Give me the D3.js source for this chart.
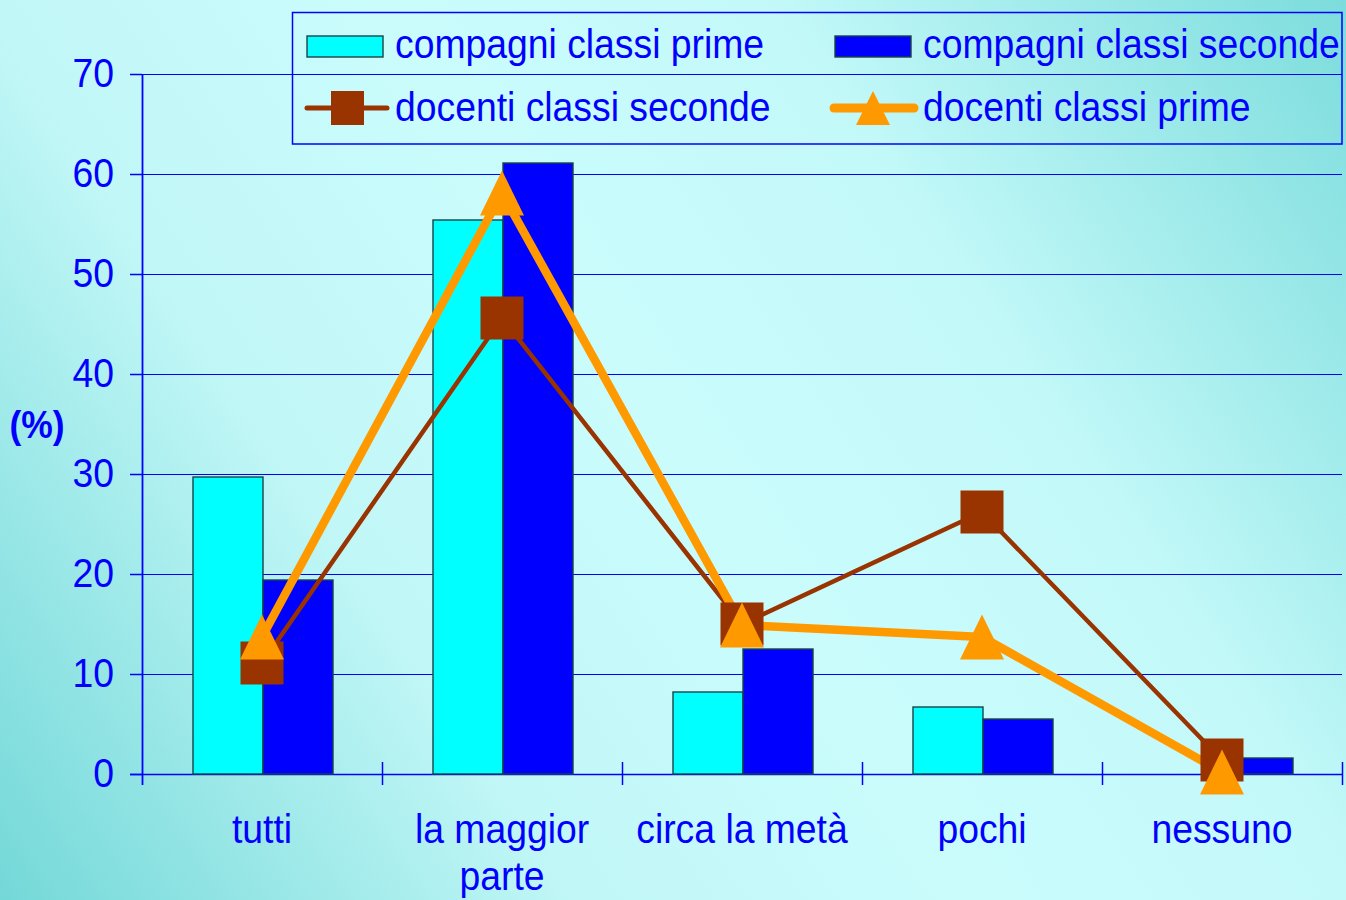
<!DOCTYPE html>
<html><head><meta charset="utf-8">
<script src="https://cdn.jsdelivr.net/npm/d3@7"></script>
<style>
html,body{margin:0;padding:0;overflow:hidden;}
svg{display:block;}
text{font-family:"Liberation Sans",Arial,sans-serif;fill:#0000ff;}
</style></head>
<body>
<svg id="chart" width="1346" height="900"></svg>
<script>
const categories = ["tutti", "la maggior parte", "circa la metà", "pochi", "nessuno"];
const categoryLines = [["tutti"], ["la maggior", "parte"], ["circa la metà"], ["pochi"], ["nessuno"]];
const compagniPrime = [29.7, 55.4, 8.2, 6.7, 0];
const compagniSeconde = [19.4, 61.1, 12.5, 5.5, 1.6];
const docentiSeconde = [11.1, 45.6, 15.0, 26.2, 1.4];
const docentiPrime = [13.7, 58.1, 14.9, 13.7, 0.2];
const yTicks = [0, 10, 20, 30, 40, 50, 60, 70];
const barSeries = ["compagni classi prime", "compagni classi seconde"];
const lineSeries = ["docenti classi seconde", "docenti classi prime"];

const svg = d3.select("#chart");
const W = 1346, H = 900;
const FS = 40, SX = 0.933;   // tall, slightly condensed text

// background gradient
const defs = svg.append("defs");
const g0 = defs.append("linearGradient").attr("id","bg")
  .attr("gradientUnits","userSpaceOnUse")
  .attr("x1",0).attr("y1",H).attr("x2",W).attr("y2",0);
[[0,"#74d8d8"],[0.3,"#c2f7f7"],[0.5,"#cafcfc"],[0.7,"#c4f9f9"],[1,"#7cdcdc"]]
  .forEach(([o,c]) => g0.append("stop").attr("offset",o).attr("stop-color",c));
svg.append("rect").attr("width",W).attr("height",H).attr("fill","url(#bg)");

const x = d3.scaleBand().domain(categories).range([142, 1342]).paddingInner(0).paddingOuter(0);
const y = d3.scaleLinear().domain([0, 70]).range([774, 74]);
const x1 = d3.scaleBand().domain(barSeries).range([0, x.bandwidth()]).paddingInner(0).paddingOuter(0.714);

const blue = "#0000ff";

// squeezed text helper
function sText(parent, tx, ty, anchor, str, size, weight) {
  const t = parent.append("text")
    .attr("transform", `translate(${tx},${ty}) scale(${SX},1)`)
    .attr("text-anchor", anchor).attr("font-size", size || FS);
  if (weight) t.attr("font-weight", weight);
  if (str !== null) t.text(str);
  return t;
}

// gridlines
svg.append("g").selectAll("line").data(yTicks).join("line")
  .attr("x1",142).attr("x2",1342)
  .attr("y1",d=>Math.round(y(d))+0.5).attr("y2",d=>Math.round(y(d))+0.5)
  .attr("stroke",blue).attr("stroke-width",1.1);

// y axis
const yAxis = svg.append("g").attr("transform","translate(142,0)")
  .call(d3.axisLeft(y).tickValues(yTicks).tickSize(12).tickPadding(15).tickFormat(d3.format("d")));
yAxis.select(".domain").remove();
yAxis.selectAll(".tick line").attr("stroke",blue).attr("stroke-width",1.5);
yAxis.selectAll(".tick text").attr("font-size",FS).attr("fill",blue)
  .attr("x", -28 / SX).attr("transform", `scale(${SX},1)`)
  .style("font-family","'Liberation Sans',Arial,sans-serif");
svg.append("line").attr("x1",142.5).attr("x2",142.5).attr("y1",y(70)).attr("y2",y(0)+11)
  .attr("stroke",blue).attr("stroke-width",1.8);
svg.append("line").attr("x1",130).attr("x2",1342).attr("y1",y(0)+0.5).attr("y2",y(0)+0.5)
  .attr("stroke",blue).attr("stroke-width",1.6);

// x axis boundary ticks
const bounds = categories.map(c => x(c)).concat([x.range()[1]]);
svg.append("g").selectAll("line").data(bounds.slice(1)).join("line")
  .attr("x1",d=>d+0.5).attr("x2",d=>d+0.5).attr("y1",y(0)-12).attr("y2",y(0)+11)
  .attr("stroke",blue).attr("stroke-width",1.5);

// category labels
const xl = svg.append("g");
categories.forEach((c,i) => {
  categoryLines[i].forEach((ln,j) => sText(xl, x(c)+x.bandwidth()/2, 843 + j*47, "middle", ln));
});

// y title
sText(svg, 37, 438, "middle", "(%)", 38, "bold");

// bars
const barData = [];
categories.forEach((c,i) => {
  barData.push({c, s: barSeries[0], v: compagniPrime[i], fill:"#00ffff"});
  barData.push({c, s: barSeries[1], v: compagniSeconde[i], fill:"#0000ff"});
});
svg.append("g").selectAll("rect").data(barData.filter(d=>d.v>0)).join("rect")
  .attr("x", d => x(d.c) + x1(d.s) + 1)
  .attr("width", x1.bandwidth())
  .attr("y", d => y(d.v))
  .attr("height", d => y(0) - y(d.v))
  .attr("fill", d => d.fill)
  .attr("stroke", "#1a4448").attr("stroke-width", 1.4);

const cx = c => x(c) + x.bandwidth()/2;
const line = d3.line().x(d=>cx(d.c)).y(d=>y(d.v));
const sec = categories.map((c,i)=>({c, v: docentiSeconde[i]}));
const pri = categories.map((c,i)=>({c, v: docentiPrime[i]}));

svg.append("path").datum(sec).attr("d",line).attr("fill","none")
  .attr("stroke","#993300").attr("stroke-width",4.5).attr("stroke-linejoin","round");
svg.append("path").datum(pri).attr("d",line).attr("fill","none")
  .attr("stroke","#ff9900").attr("stroke-width",8.5).attr("stroke-linejoin","round");

const sq = 43;
svg.append("g").selectAll("rect").data(sec).join("rect")
  .attr("x", d=>cx(d.c)-sq/2).attr("y", d=>y(d.v)-sq/2)
  .attr("width",sq).attr("height",sq).attr("fill","#993300");

const tri = (cxv, cyv, w, h) => `M${cxv},${cyv-h/2}L${cxv+w/2},${cyv+h/2}L${cxv-w/2},${cyv+h/2}Z`;
svg.append("g").selectAll("path").data(pri).join("path")
  .attr("d", d => tri(cx(d.c), y(d.v), 44, 45)).attr("fill","#ff9900");

// legend
const lg = svg.append("g");
lg.append("rect").attr("x",292.5).attr("y",12.5).attr("width",1049.5).attr("height",131.5)
  .attr("fill","none").attr("stroke",blue).attr("stroke-width",1.5);
lg.append("rect").attr("x",307).attr("y",36).attr("width",76).attr("height",21)
  .attr("fill","#00ffff").attr("stroke","#1a4448").attr("stroke-width",1.4);
lg.append("rect").attr("x",835).attr("y",36).attr("width",76).attr("height",21)
  .attr("fill","#0000ff").attr("stroke","#1a4448").attr("stroke-width",1.4);
lg.append("line").attr("x1",307).attr("x2",387).attr("y1",108).attr("y2",108)
  .attr("stroke","#993300").attr("stroke-width",5).attr("stroke-linecap","round");
lg.append("rect").attr("x",331).attr("y",91).attr("width",33).attr("height",34).attr("fill","#993300");
lg.append("line").attr("x1",834).attr("x2",914).attr("y1",108).attr("y2",108)
  .attr("stroke","#ff9900").attr("stroke-width",9).attr("stroke-linecap","round");
lg.append("path").attr("d", tri(873, 108, 34, 34)).attr("fill","#ff9900");
const legTexts = [[barSeries[0],395,58],[barSeries[1],923,58],[lineSeries[0],395,121],[lineSeries[1],923,121]];
legTexts.forEach(([t,xx,yy]) => sText(lg, xx, yy, "start", t));
</script>
</body></html>
